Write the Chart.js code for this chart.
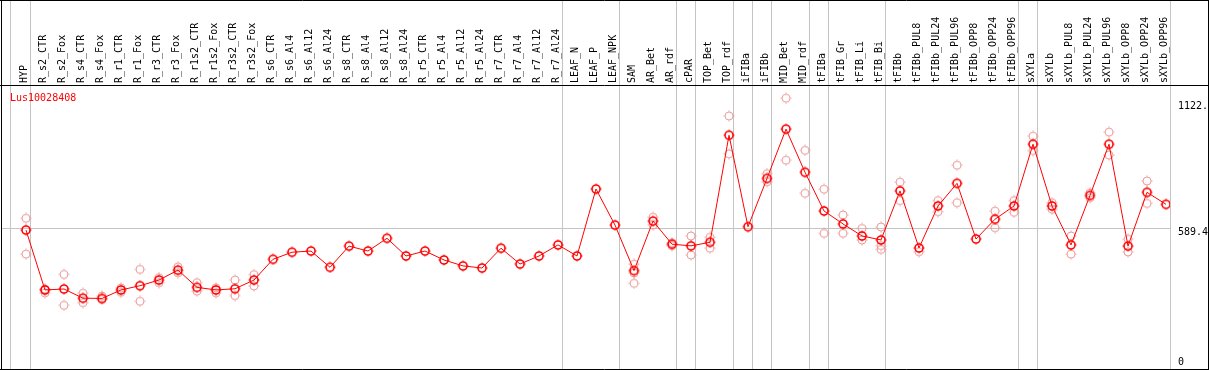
<!DOCTYPE html>
<html lang="en">
<head>
  <meta charset="UTF-8">
  <title>Lus10028408</title>
  <script src="https://cdn.jsdelivr.net/npm/chart.js"></script>
  <style>
    body { margin: 0; background: #fff; }
    #wrap { width: 1209px; height: 370px; position: relative; }
  </style>
</head>
<body>
  <div id="wrap"><canvas id="chart"></canvas></div>

  <script>
    const geneName = 'Lus10028408';

    const categories = [
      'HYP', 'R_s2_CTR', 'R_s2_Fox', 'R_s4_CTR', 'R_s4_Fox', 'R_r1_CTR', 'R_r1_Fox',
      'R_r3_CTR', 'R_r3_Fox', 'R_r1s2_CTR', 'R_r1s2_Fox', 'R_r3s2_CTR', 'R_r3s2_Fox',
      'R_s6_CTR', 'R_s6_Al4', 'R_s6_Al12', 'R_s6_Al24', 'R_s8_CTR', 'R_s8_Al4',
      'R_s8_Al12', 'R_s8_Al24', 'R_r5_CTR', 'R_r5_Al4', 'R_r5_Al12', 'R_r5_Al24',
      'R_r7_CTR', 'R_r7_Al4', 'R_r7_Al12', 'R_r7_Al24', 'LEAF_N', 'LEAF_P', 'LEAF_NPK',
      'SAM', 'AR_Bet', 'AR_rdf', 'cPAR', 'TOP_Bet', 'TOP_rdf', 'iFIBa', 'iFIBb',
      'MID_Bet', 'MID_rdf', 'tFIBa', 'tFIB_Gr', 'tFIB_Li', 'tFIB_Bi', 'tFIBb',
      'tFIBb_PUL8', 'tFIBb_PUL24', 'tFIBb_PUL96', 'tFIBb_OPP8', 'tFIBb_OPP24', 'tFIBb_OPP96',
      'sXYLa', 'sXYLb', 'sXYLb_PUL8', 'sXYLb_PUL24', 'sXYLb_PUL96', 'sXYLb_OPP8',
      'sXYLb_OPP24', 'sXYLb_OPP96'
    ];

    // mean expression per sample
    const meanValues = [
      582, 328, 332, 293, 292, 328, 346, 370, 412, 339, 328, 333, 370,
      458, 488, 493, 424, 514, 493, 547, 472, 493, 455, 430, 421,
      505, 438, 472, 519, 472, 756, 603,
      410, 620, 522, 515, 530, 984, 596, 801,
      1010, 827, 663, 608, 557, 540, 748,
      506, 684, 780, 544, 628, 684,
      946, 684, 519, 729, 946, 514, 742, 691
    ];

    // replicates (null = hidden behind the mean marker)
    const repHigh = [
      632, 332, 394, 314, 302, 337, 415, 380, 426, 359, 337, 370, 393,
      null, null, null, null, null, null, null, null, null, null, null, null,
      null, null, null, null, null, null, null,
      437, 636, 528, 557, 551, 1066, null, 821,
      1141, 920, 755, 646, 589, 595, 785,
      null, 707, 857, null, 662, 707,
      980, 698, 557, 740, 997, 543, 790, null
    ];
    const repLow = [
      480, 316, 263, 274, 288, 318, 280, 359, 401, 323, 316, 304, 345,
      null, null, null, null, null, null, null, null, null, null, null, null,
      null, null, null, null, null, null, null,
      356, 603, 516, 476, 505, 905, null, 787,
      878, 738, 568, 568, 540, 516, 707,
      490, 660, 698, null, 592, 657,
      919, 670, 480, 719, 900, 489, 695, null
    ];
    const repExtra = categories.map(c => c === 'SAM' ? 400 : c === 'tFIB_Bi' ? 500 : null);

    // group separators (drawn just after these sample positions)
    const separators = [-0.84, 0.22, 28.22, 31.22, 34.22, 35.22, 37.22, 38.22, 39.22,
      41.22, 42.22, 45.22, 52.22, 53.22, 60.22];

    const yTicks = [0, 589.4, 1122];
    const yTickLabels = ['0', '589.4', '1122.'];

    function marker(color, width) {
      const c = document.createElement('canvas');
      c.width = 12; c.height = 12;
      const g = c.getContext('2d');
      g.strokeStyle = color;
      g.lineWidth = width;
      g.beginPath();
      g.arc(6, 6, 4, 0, Math.PI * 2);
      g.stroke();
      g.lineWidth = 1;
      g.beginPath();
      g.moveTo(6, 0.5); g.lineTo(6, 1.8);
      g.moveTo(6, 10.2); g.lineTo(6, 11.5);
      g.moveTo(0.5, 6); g.lineTo(1.8, 6);
      g.moveTo(10.2, 6); g.lineTo(11.5, 6);
      g.stroke();
      return c;
    }

    const toXY = arr => arr.map((v, i) => ({ x: i, y: v }));

    const decorations = {
      id: 'decorations',
      beforeDatasetsDraw(chart) {
        const { ctx, scales: { x } } = chart;
        ctx.save();
        ctx.strokeStyle = '#c4c4c4';
        ctx.lineWidth = 1;
        separators.forEach(s => {
          const px = Math.round(x.getPixelForValue(s)) + 0.5;
          ctx.beginPath();
          ctx.moveTo(px, 0);
          ctx.lineTo(px, chart.height);
          ctx.stroke();
        });
        ctx.restore();
      },
      afterDraw(chart) {
        const { ctx } = chart;
        ctx.save();
        ctx.strokeStyle = '#000';
        ctx.lineWidth = 1;
        ctx.beginPath();
        ctx.moveTo(0, 0.5); ctx.lineTo(1209, 0.5);
        ctx.moveTo(0, 85.5); ctx.lineTo(1209, 85.5);
        ctx.moveTo(0, 369.5); ctx.lineTo(1209, 369.5);
        ctx.moveTo(1.5, 0); ctx.lineTo(1.5, 370);
        ctx.moveTo(1208.5, 0); ctx.lineTo(1208.5, 370);
        ctx.stroke();
        ctx.fillStyle = '#ff0000';
        ctx.font = '10px "DejaVu Sans Mono"';
        ctx.textBaseline = 'alphabetic';
        ctx.fillText(geneName, 10, 101);
        ctx.restore();
      }
    };

    Chart.defaults.font.family = '"DejaVu Sans Mono", monospace';
    Chart.defaults.font.size = 10;
    Chart.defaults.color = '#000';

    new Chart(document.getElementById('chart'), {
      type: 'line',
      data: {
        datasets: [
          {
            label: 'mean',
            data: toXY(meanValues),
            borderColor: '#ff0000',
            borderWidth: 1,
            pointStyle: marker('#ff0000', 1.6),
            pointRadius: 5,
            tension: 0,
            order: 0
          },
          {
            label: 'rep1',
            data: toXY(repHigh),
            showLine: false,
            pointStyle: marker('#eb9a9a', 1),
            pointRadius: 5,
            order: 1
          },
          {
            label: 'rep2',
            data: toXY(repLow),
            showLine: false,
            pointStyle: marker('#eb9a9a', 1),
            pointRadius: 5,
            order: 1
          },
          {
            label: 'rep3',
            data: toXY(repExtra),
            showLine: false,
            pointStyle: marker('#eb9a9a', 1),
            pointRadius: 5,
            order: 1
          }
        ]
      },
      options: {
        responsive: true,
        maintainAspectRatio: false,
        animation: false,
        layout: { autoPadding: false, padding: { left: 2, right: 0, top: 0, bottom: 1 } },
        plugins: {
          legend: { display: false },
          tooltip: { enabled: false },
          title: { display: false }
        },
        scales: {
          x: {
            type: 'linear',
            position: 'top',
            min: -1.263,
            max: 60.21,
            bounds: 'data',
            afterBuildTicks: scale => { scale.ticks = categories.map((c, i) => ({ value: i })); },
            afterFit: scale => {
              scale.height = 86;
              scale.paddingLeft = 0;
              scale.paddingRight = 0;
            },
            grid: { display: false, drawTicks: false },
            border: { display: false },
            ticks: {
              autoSkip: false,
              minRotation: 90,
              maxRotation: 90,
              padding: 3,
              labelOffset: 10,
              color: '#000',
              callback: (value, index) => categories[index]
            }
          },
          y: {
            type: 'linear',
            position: 'right',
            min: -7.2,
            max: 1192.8,
            bounds: 'data',
            afterBuildTicks: scale => { scale.ticks = yTicks.map(v => ({ value: v })); },
            afterFit: scale => {
              scale.width = 39;
              scale.paddingTop = 0;
              scale.paddingBottom = 0;
            },
            grid: {
              drawTicks: false,
              color: ctx => (ctx.tick && ctx.tick.value === 589.4) ? '#c4c4c4' : 'rgba(0,0,0,0)'
            },
            border: { display: false },
            ticks: {
              padding: 8,
              crossAlign: 'near',
              labelOffset: 4,
              color: '#000',
              font: { lineHeight: '18px' },
              callback: (value, index) => index === 0 ? [yTickLabels[0], ''] : yTickLabels[index]
            }
          }
        }
      },
      plugins: [decorations]
    });
  </script>
</body>
</html>
